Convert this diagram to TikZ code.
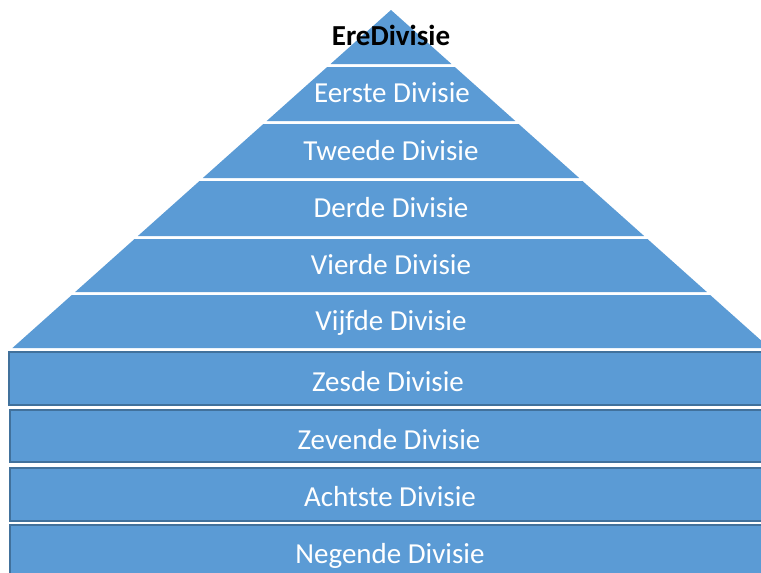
\documentclass[tikz,border=0pt]{standalone}
\usepackage{fontspec}
\setmainfont{Carlito}
\definecolor{layerfill}{HTML}{5B9BD5}
\definecolor{layerline}{HTML}{41719C}
\tikzset{
  layer/.style={fill=layerfill},
  boxlayer/.style={fill=layerfill, draw=layerline, line width=2pt},
  lbl/.style={text=white, font=\fontsize{29}{32}\selectfont, inner sep=0pt, anchor=base},
  toplbl/.style={text=black, font=\fontsize{29}{32}\selectfont\bfseries, inner sep=0pt, anchor=base}
}
\begin{document}
\begin{tikzpicture}[x=1pt,y=-1pt]
\useasboundingbox (0,0) rectangle (761,573);
\clip (0,0) rectangle (761,573);
% pyramid apex triangle
\fill[layer] (391,10) -- ({391+1.12*54},64) -- ({391-1.12*54},64) -- cycle;
% pyramid trapezoids
\foreach \t/\b in {67/121,124/178,181/236,239/292,295/348}{
  \fill[layer] ({391-1.12*(\t-10)},\t) -- ({391+1.12*(\t-10)},\t)
    -- ({391+1.12*(\b-10)},\b) -- ({391-1.12*(\b-10)},\b) -- cycle;
}
% base rectangles
\draw[boxlayer] (9,352) rectangle (790,405);
\draw[boxlayer] (10,410) rectangle (790,462);
\draw[boxlayer] (10,468) rectangle (790,521);
\draw[boxlayer] (10,525) rectangle (790,600);
% labels
\node[toplbl] (ere) at (391,45) {EreDivisie};
\node[lbl] (eerste) at (392,102) {Eerste Divisie};
\node[lbl] (tweede) at (391,160) {Tweede Divisie};
\node[lbl] (derde) at (391,217) {Derde Divisie};
\node[lbl] (vierde) at (391,274) {Vierde Divisie};
\node[lbl] (vijfde) at (391,330) {Vijfde Divisie};
\node[lbl] (zesde) at (388,391) {Zesde Divisie};
\node[lbl] (zevende) at (389,449) {Zevende Divisie};
\node[lbl] (achtste) at (390,506) {Achtste Divisie};
\node[lbl] (negende) at (390,563) {Negende Divisie};
\end{tikzpicture}
\end{document}
